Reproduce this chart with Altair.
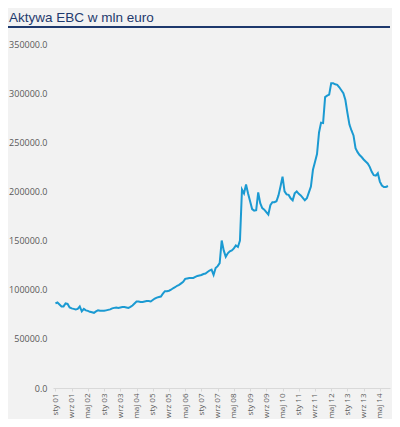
import altair as alt
import pandas as pd

title_text = "Aktywa EBC w mln euro"

# monthly values, Jan 2001 .. Sep 2014 (mln EUR)
values = [
    86000, 87000, 85000, 83000, 83000, 86000, 85500, 82000, 81000, 80500,
    80000, 80500, 83000, 78000, 80500, 79000, 78500, 77500, 77000, 76500,
    78000, 79000, 78500, 78500, 78500, 79000, 79500, 80000, 81000, 81500,
    82000, 81500, 82000, 82500, 82500, 82000, 81500, 82500, 84000, 86000,
    88000, 88000, 87500, 87500, 88000, 88500, 88500, 88000, 89500, 91000,
    92000, 92500, 93000, 96000, 98500, 98500, 99000, 100000, 101500, 102500,
    104000, 105000, 106500, 108000, 111000, 111500, 112000, 112000, 112000, 113000,
    114000, 114500, 115000, 116000, 116500, 118000, 119500, 120500, 115000, 122000,
    124000, 127000, 150000, 140000, 133500, 137000, 139000, 140000, 142000, 145000,
    143500, 150000, 202000, 198000, 207000, 198000, 190000, 182000, 180500, 181000,
    199000, 188000, 183000, 181500, 179000, 176500, 186000, 189000, 189000, 190000,
    196000, 205000, 215000, 200000, 197000, 196500, 193000, 191000, 198000, 200000,
    197500, 196000, 193500, 191000, 193000, 199000, 205000, 222000, 230000, 238000,
    260000, 270000, 269500, 296000, 297500, 298500, 310000, 310000, 309000, 308500,
    306000, 303000, 300000, 293000, 280000, 268000, 262000, 257000, 244000, 240000,
    237000, 235000, 232500, 230500, 228500, 225000, 220000, 216500, 216000, 218500,
    210000, 206000, 204500, 204500, 205500,
]

tick_labels = [
    "sty 01", "wrz 01", "maj 02", "sty 03", "wrz 03", "maj 04", "sty 05",
    "wrz 05", "maj 06", "sty 07", "wrz 07", "maj 08", "sty 09", "wrz 09",
    "maj 10", "sty 11", "wrz 11", "maj 12", "sty 13", "wrz 13", "maj 14",
]
tick_positions = [i * 8 for i in range(len(tick_labels))]

df = pd.DataFrame({"m": list(range(len(values))), "v": values})
title_df = pd.DataFrame({"t": [title_text]})

label_array = "[" + ",".join("'" + s + "'" for s in tick_labels) + "]"

FONT = "Open Sans"

line = alt.Chart(df).mark_line(color="#1b9ad2", strokeWidth=2).encode(
    x=alt.X(
        "m:Q",
        scale=alt.Scale(domain=[-1.2, 165], nice=False, zero=False),
        axis=alt.Axis(
            values=tick_positions,
            labelExpr=label_array + "[round(datum.value/8)]",
            labelAngle=-90,
            labelAlign="right",
            labelBaseline="middle",
            labelFont=FONT,
            labelFontSize=8,
            labelColor="#595959",
            labelPadding=2,
            domainColor="#d9d9d9",
            tickColor="#d9d9d9",
            tickSize=3,
            grid=False,
            title=None,
            labelOverlap=False,
        ),
    ),
    y=alt.Y(
        "v:Q",
        scale=alt.Scale(domain=[0, 350000], nice=False),
        axis=alt.Axis(
            values=[0, 50000, 100000, 150000, 200000, 250000, 300000, 350000],
            format=".1f",
            labelFont=FONT,
            labelFontSize=9,
            labelColor="#595959",
            labelPadding=6,
            domain=False,
            ticks=False,
            grid=False,
            title=None,
        ),
    ),
)

underline = alt.Chart(df).mark_rule(color="#1f3a6e", strokeWidth=1.5).encode(
    x=alt.value(-45), x2=alt.value(337), y=alt.value(-17)
)

title_mark = alt.Chart(title_df).mark_text(
    align="left", baseline="alphabetic", font="Liberation Sans", fontSize=13.5,
    color="#1f3a6e",
).encode(x=alt.value(-44), y=alt.value(-22), text="t:N")

chart = alt.layer(line, underline, title_mark).properties(
    width=337,
    height=344,
    autosize=alt.AutoSizeParams(type="none"),
    padding={"left": 45, "top": 36, "right": 2, "bottom": 31},
).configure(background="#f2f2f2").configure_view(stroke=None)

chart.save("out.html", embed_options={"renderer": "svg", "actions": False})
